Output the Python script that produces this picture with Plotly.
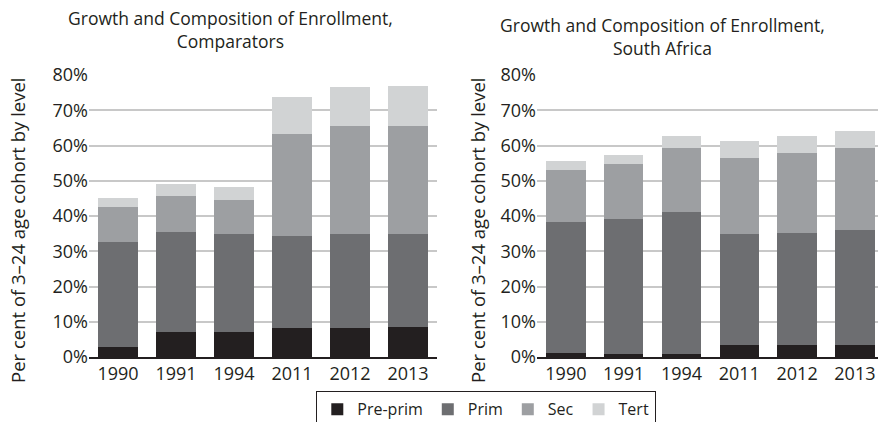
import plotly.graph_objects as go

years = ["1990", "1991", "1994", "2011", "2012", "2013"]
levels = ["Pre-prim", "Prim", "Sec", "Tert"]
colors = ["#231f20", "#6d6e71", "#9d9fa2", "#d1d3d4"]

# cumulative tops (share of cohort)
comp_pre = [0.028, 0.070, 0.070, 0.082, 0.082, 0.085]
comp_prim_top = [0.325, 0.356, 0.350, 0.344, 0.350, 0.350]
comp_sec_top = [0.425, 0.456, 0.444, 0.632, 0.654, 0.654]
comp_tert_top = [0.450, 0.490, 0.481, 0.737, 0.765, 0.768]

sa_pre = [0.012, 0.009, 0.009, 0.034, 0.034, 0.034]
sa_prim_top = [0.383, 0.391, 0.411, 0.350, 0.353, 0.360]
sa_sec_top = [0.530, 0.548, 0.593, 0.565, 0.579, 0.593]
sa_tert_top = [0.556, 0.573, 0.627, 0.613, 0.627, 0.641]


def parts(pre, prim_top, sec_top, tert_top):
    prim = [b - a for a, b in zip(pre, prim_top)]
    sec = [b - a for a, b in zip(prim_top, sec_top)]
    tert = [b - a for a, b in zip(sec_top, tert_top)]
    return [pre, prim, sec, tert]


comp = parts(comp_pre, comp_prim_top, comp_sec_top, comp_tert_top)
sa = parts(sa_pre, sa_prim_top, sa_sec_top, sa_tert_top)

FONT = "Open Sans"
fig = go.Figure()
for i, name in enumerate(levels):
    fig.add_trace(go.Bar(x=years, y=comp[i], name=name, marker_color=colors[i],
                         marker_line_width=0, xaxis="x", yaxis="y", legendgroup=name))
for i, name in enumerate(levels):
    fig.add_trace(go.Bar(x=years, y=sa[i], name=name, marker_color=colors[i],
                         marker_line_width=0, xaxis="x2", yaxis="y2", legendgroup=name,
                         showlegend=False))

W, H = 878, 422
ydom = [(H - 357) / H, (H - 75) / H]
yax = dict(range=[0, 0.8], dtick=0.1, tickformat=".0%", showgrid=True, gridcolor="#c8c8c8",
           gridwidth=1.5, zeroline=False, showline=False, ticks="", ticklen=0,
           tickfont=dict(family=FONT, size=18, color="#231f20"), domain=ydom, fixedrange=True,
           automargin=False)
xax = dict(type="category", showline=True, linecolor="#231f20", linewidth=1.5, ticks="",
           tickfont=dict(family=FONT, size=18, color="#231f20"), showgrid=False,
           automargin=False)

fig.update_layout(
    width=W, height=H, margin=dict(l=0, r=0, t=0, b=0, autoexpand=False),
    paper_bgcolor="white", plot_bgcolor="white",
    barmode="stack", bargap=0.32,
    font=dict(family=FONT, color="#231f20"),
    xaxis=dict(**xax, domain=[89 / W, 437 / W], range=[-0.5, 5.5], anchor="y"),
    yaxis=dict(**yax, anchor="x"),
    xaxis2=dict(**xax, domain=[537 / W, 1.0], range=[-0.5, 5.4], anchor="y2"),
    yaxis2=dict(**yax, anchor="x2"),
    legend=dict(orientation="h", x=486 / W, xanchor="center", y=(H - 391) / H, yanchor="top",
                bordercolor="#231f20", borderwidth=1.3, font=dict(family=FONT, size=16),
                itemwidth=30, traceorder="normal", tracegroupgap=0),
    showlegend=True,
)

ann = [
    dict(text="Growth and Composition of Enrollment,<br>Comparators", x=230 / W, y=(H - 30) / H,
         xanchor="center", yanchor="middle", font=dict(size=17.5)),
    dict(text="Growth and Composition of Enrollment,<br>South Africa", x=662 / W, y=(H - 37) / H,
         xanchor="center", yanchor="middle", font=dict(size=17.5)),
    dict(text="Per cent of 3\u201324 age cohort by level", x=18 / W, y=(H - 230) / H, textangle=-90,
         xanchor="center", yanchor="middle", font=dict(size=18.5)),
    dict(text="Per cent of 3\u201324 age cohort by level", x=478 / W, y=(H - 230) / H, textangle=-90,
         xanchor="center", yanchor="middle", font=dict(size=18.5)),
]
for a in ann:
    a.update(xref="paper", yref="paper", showarrow=False)
    a["font"]["family"] = FONT
    a["font"]["color"] = "#231f20"
fig.update_layout(annotations=ann)

fig.write_html("out.html", config={"displayModeBar": False},
               post_script="document.body.style.margin='0';document.body.style.padding='0';")
